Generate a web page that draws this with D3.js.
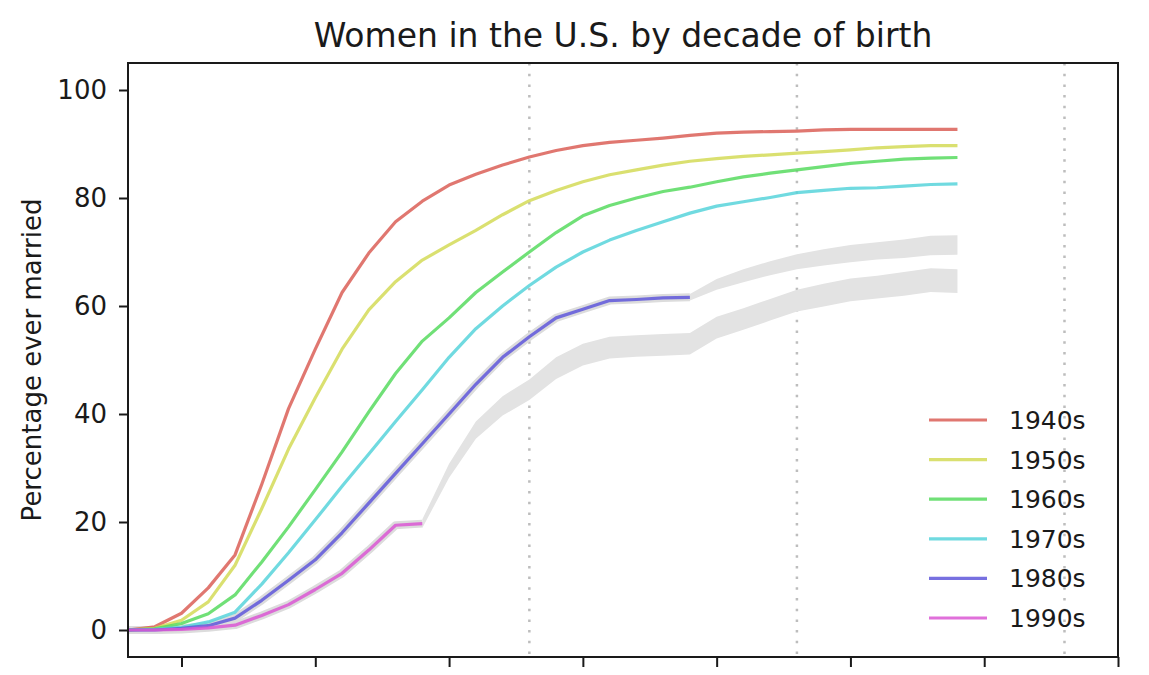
<!DOCTYPE html>
<html>
<head>
<meta charset="utf-8">
<script src="https://cdn.jsdelivr.net/npm/d3@7"></script>
<style>
  html, body { margin: 0; padding: 0; background: #ffffff; }
  svg { display: block; font-family: "DejaVu Sans", sans-serif; }
</style>
</head>
<body>
<svg id="chart" width="1149" height="675"></svg>
<script>
// ---------- data (percentage ever married by age) ----------
const ages = [13,14,15,16,17,18,19,20,21,22,23,24,25,26,27,28,29,30,31,32,33,34,35,36,37,38,39,40,41,42,43,44];
const cohorts = ["1940s","1950s","1960s","1970s","1980s","1990s"];

const s1940 = [0,0.6,3.1,7.8,13.9,27,41,52,62.5,69.8,75.6,79.4,82.4,84.4,86.1,87.6,88.8,89.7,90.3,90.7,91.1,91.6,92.0,92.2,92.3,92.4,92.6,92.7,92.7,92.7,92.7,92.7];
const s1950 = [0,0.3,1.8,5.2,12,22.5,33.5,43,52,59.3,64.5,68.5,71.3,74,76.9,79.5,81.4,83,84.3,85.2,86.1,86.8,87.3,87.7,88,88.3,88.6,88.9,89.3,89.5,89.7,89.7];
const s1960 = [0,0.2,1.2,3,6.5,12.6,19.1,26,33,40.4,47.5,53.5,57.8,62.5,66.3,70,73.6,76.7,78.6,80,81.2,82,83,83.9,84.6,85.2,85.8,86.4,86.8,87.2,87.4,87.5];
const s1970 = [0,0.1,0.5,1.5,3.3,8.5,14.3,20.4,26.6,32.6,38.6,44.5,50.5,55.8,60,63.8,67.2,70,72.2,74,75.6,77.2,78.5,79.3,80.1,81,81.4,81.8,81.9,82.2,82.5,82.6];
const s1980 = [0,0,0.3,0.8,2.2,5.5,9.2,13,18,23.5,29,34.5,40,45.5,50.5,54.3,57.8,59.4,61,61.2,61.5,61.6];
const s1990 = [0,0,0.1,0.4,0.9,2.7,4.7,7.5,10.5,14.8,19.4,19.7];

// predicted ranges (grey bands) for the younger cohorts
const pred1980Ages = [34,35,36,37,38,39,40,41,42,43,44];
const pred1980Low  = [61.0,63.0,64.4,65.7,66.8,67.5,68.1,68.6,68.9,69.4,69.5];
const pred1980High = [62.2,65.0,66.8,68.3,69.6,70.5,71.3,71.8,72.3,73.0,73.1];
const pred1990Ages = [24,25,26,27,28,29,30,31,32,33,34,35,36,37,38,39,40,41,42,43,44];
const pred1990Low  = [18.9,28.2,35.4,39.7,42.6,46.5,49,50.3,50.6,50.8,51,54,55.6,57.3,59,59.9,60.9,61.4,61.9,62.6,62.4];
const pred1990High = [20.5,30.8,38.6,43.3,46.4,50.5,53,54.3,54.6,54.8,55,58,59.6,61.3,63,64.1,65.1,65.6,66.3,67,66.8];

const yTicks = [0,20,40,60,80,100];
const xTicks = [15,20,25,30,35,40,45,50];
const refAges = [28,38,48];
const colors = ["#db5f57","#d3db57","#57db5f","#57d3db","#5f57db","#db57d3"];

const titleText = "Women in the U.S. by decade of birth";
const yLabelText = "Percentage ever married";

// ---------- layout ----------
const svg = d3.select("#chart");
const plotL = 128, plotR = 1118, plotT = 63, plotB = 657;

const x = d3.scaleLinear().domain([13, 50]).range([plotL, plotR]);
const y = d3.scaleLinear().domain([-5, 105]).range([plotB, plotT]);

const seriesValues = [s1940, s1950, s1960, s1970, s1980, s1990];
const series = cohorts.map((c, i) => ({
  name: c,
  color: colors[i],
  points: seriesValues[i].map((v, j) => ({age: ages[j], v}))
}));

// reference dotted lines
svg.append("g").selectAll("line").data(refAges).join("line")
  .attr("x1", d => x(d)).attr("x2", d => x(d))
  .attr("y1", plotT).attr("y2", plotB)
  .attr("stroke", "#bdbdbd").attr("stroke-width", 2.5)
  .attr("stroke-dasharray", "2.5,8.2");

// grey prediction bands
const area = d3.area().x(d => x(d.age)).y0(d => y(d.lo)).y1(d => y(d.hi));
const bands = [
  pred1980Ages.map((a, i) => ({age: a, lo: pred1980Low[i], hi: pred1980High[i]})),
  pred1990Ages.map((a, i) => ({age: a, lo: pred1990Low[i], hi: pred1990High[i]}))
];
svg.append("g").selectAll("path").data(bands).join("path")
  .attr("d", area).attr("fill", "#e3e3e3");

const line = d3.line().x(d => x(d.age)).y(d => y(d.v));

// faint confidence halo behind the younger cohorts
svg.append("g").selectAll("path").data(series.slice(4)).join("path")
  .attr("d", d => line(d.points))
  .attr("fill", "none").attr("stroke", "#dcdcdc").attr("stroke-width", 8)
  .attr("stroke-linejoin", "round");

// cohort lines
svg.append("g").selectAll("path").data(series).join("path")
  .attr("d", d => line(d.points))
  .attr("fill", "none")
  .attr("stroke", d => d.color)
  .attr("stroke-opacity", 0.85)
  .attr("stroke-width", 3.2)
  .attr("stroke-linejoin", "round");

// frame
svg.append("rect")
  .attr("x", plotL).attr("y", plotT)
  .attr("width", plotR - plotL).attr("height", plotB - plotT)
  .attr("fill", "none").attr("stroke", "#1a1a1a").attr("stroke-width", 2);

// axes
const yAxis = d3.axisLeft(y).tickValues(yTicks).tickSize(9).tickPadding(12);
const gy = svg.append("g").attr("transform", `translate(${plotL},0)`).call(yAxis);
gy.select(".domain").remove();
gy.selectAll(".tick line").attr("stroke", "#1a1a1a").attr("stroke-width", 2);
gy.selectAll(".tick text").attr("font-size", 26).attr("fill", "#1a1a1a")
  .attr("font-family", "DejaVu Sans");

const xAxis = d3.axisBottom(x).tickValues(xTicks).tickSize(10).tickFormat("");
const gx = svg.append("g").attr("transform", `translate(0,${plotB})`).call(xAxis);
gx.select(".domain").remove();
gx.selectAll(".tick line").attr("stroke", "#1a1a1a").attr("stroke-width", 2);

// title
svg.append("text")
  .attr("x", (plotL + plotR) / 2).attr("y", 47)
  .attr("text-anchor", "middle")
  .attr("font-size", 33).attr("fill", "#1a1a1a")
  .text(titleText);

// y label
svg.append("text")
  .attr("transform", `translate(41,${(plotT + plotB) / 2}) rotate(-90)`)
  .attr("text-anchor", "middle")
  .attr("font-size", 26).attr("fill", "#1a1a1a")
  .text(yLabelText);

// legend
const leg = svg.append("g").selectAll("g").data(series).join("g")
  .attr("transform", (d, i) => `translate(929,${420 + i * 39.6})`);
leg.append("line")
  .attr("x1", 0).attr("x2", 58).attr("y1", 0).attr("y2", 0)
  .attr("stroke", d => d.color).attr("stroke-opacity", 0.85).attr("stroke-width", 3.2);
leg.append("text")
  .attr("x", 80).attr("y", 9)
  .attr("font-size", 25).attr("fill", "#1a1a1a")
  .text(d => d.name);
</script>
</body>
</html>
